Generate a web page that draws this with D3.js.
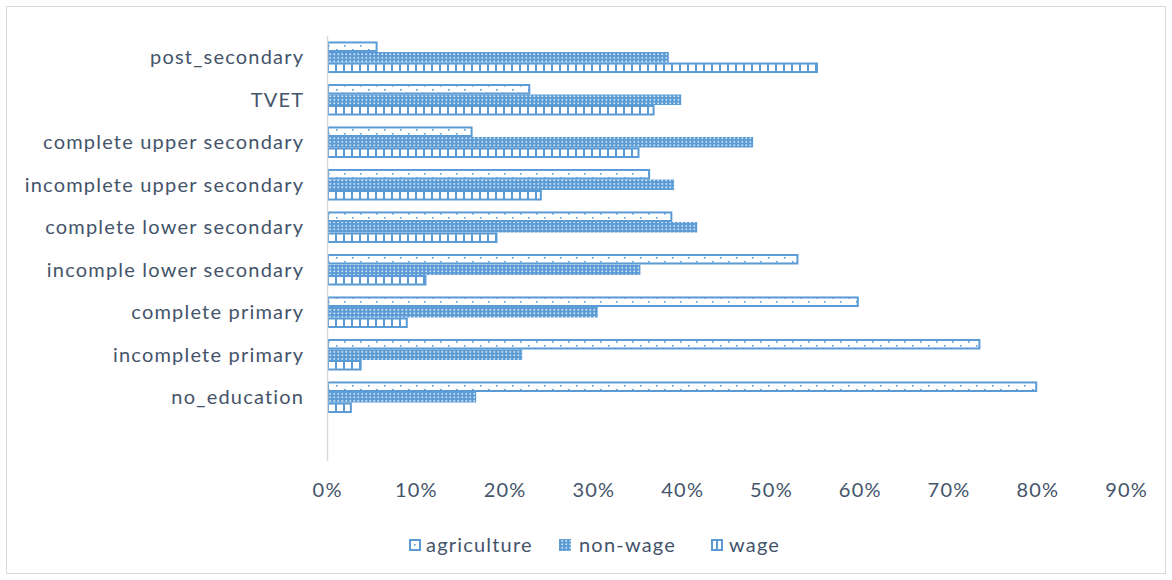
<!DOCTYPE html>
<html><head><meta charset="utf-8">
<script src="https://cdn.jsdelivr.net/npm/d3@7/dist/d3.min.js"></script>
<style>body{margin:0;background:#fff}svg{display:block}</style>
</head><body>
<svg id="c" width="1172" height="580"></svg>
<script>
const categories = ["post_secondary","TVET","complete upper secondary","incomplete upper secondary","complete lower secondary","incomple lower secondary","complete primary","incomplete primary","no_education"];
const seriesNames = ["agriculture","non-wage","wage"];
const agriculture = [5.7, 22.9, 16.4, 36.4, 38.9, 53.1, 59.9, 73.6, 80.0];
const nonWage     = [38.5, 39.9, 48.0, 39.1, 41.7, 35.3, 30.5, 22.0, 16.8];
const wage        = [55.3, 36.9, 35.2, 24.2, 19.2, 11.2, 9.1, 3.9, 2.8];
const xTicks = [0,10,20,30,40,50,60,70,80,90];

const blue = "#5B9BD5", text = "#44546A", font = "Lato, sans-serif";
const fs = 20, ls = 1.2;
const svg = d3.select("#c");
const defs = svg.append("defs");
let p = defs.append("pattern").attr("id","pAg").attr("patternUnits","userSpaceOnUse").attr("width",16).attr("height",8);
p.append("rect").attr("width",16).attr("height",8).attr("fill","#fff");
p.append("rect").attr("x",0).attr("y",1).attr("width",1.6).attr("height",1.6).attr("fill",blue);
p.append("rect").attr("x",8).attr("y",5).attr("width",1.6).attr("height",1.6).attr("fill",blue);
p = defs.append("pattern").attr("id","pNw").attr("patternUnits","userSpaceOnUse").attr("width",4).attr("height",3.5);
p.append("rect").attr("width",4).attr("height",3.5).attr("fill",blue);
p.append("rect").attr("x",1.5).attr("y",1.2).attr("width",1.6).attr("height",1.3).attr("fill","#fff");
p = defs.append("pattern").attr("id","pWg").attr("patternUnits","userSpaceOnUse").attr("width",8).attr("height",8).attr("x",327);
p.append("rect").attr("width",8).attr("height",8).attr("fill","#fff");
p.append("rect").attr("x",0).attr("y",0).attr("width",2).attr("height",8).attr("fill",blue);

svg.append("rect").attr("x",6.5).attr("y",6.5).attr("width",1159).attr("height",567).attr("fill","none").attr("stroke","#d9d9d9");

const x = d3.scaleLinear().domain([0,90]).range([327,1126]);
const y = d3.scaleBand().domain(categories.concat([""])).range([36,461]).paddingInner(0);
const ys = d3.scaleBand().domain(seriesNames).range([0,y.bandwidth()]).paddingOuter(0.52);

const data = categories.map((c,i)=>({cat:c, vals:[agriculture[i], nonWage[i], wage[i]]}));
const fills = {"agriculture":"url(#pAg)","non-wage":"url(#pNw)","wage":"url(#pWg)"};

const g = svg.append("g");
data.forEach(d=>{
  seriesNames.forEach((s,j)=>{
    const v = d.vals[j];
    const y0 = y(d.cat)+ys(s);
    const h = ys.bandwidth();
    if (s==="non-wage") {
      g.append("rect").attr("x",x(0)).attr("y",y0).attr("width",x(v)-x(0)).attr("height",h).attr("fill",fills[s]);
    } else {
      g.append("rect").attr("x",x(0)+1).attr("y",y0+1).attr("width",x(v)-x(0)-2).attr("height",h-2)
        .attr("fill",fills[s]).attr("stroke",blue).attr("stroke-width",2);
    }
  });
});

svg.append("line").attr("x1",327.5).attr("x2",327.5).attr("y1",36).attr("y2",461).attr("stroke","#d9d9d9").attr("stroke-width",1.5);

svg.append("g").selectAll("text").data(categories).join("text")
  .attr("x",303+ls).attr("y",d=>y(d)+y.bandwidth()/2).attr("dy","0.35em")
  .attr("text-anchor","end").attr("fill",text).attr("font-family",font).attr("font-size",fs)
  .attr("letter-spacing",ls).text(d=>d);

svg.append("g").selectAll("text").data(xTicks).join("text")
  .attr("x",d=>x(d)+ls/2).attr("y",490).attr("dy","0.35em").attr("text-anchor","middle")
  .attr("fill",text).attr("font-family",font).attr("font-size",fs).attr("letter-spacing",ls).text(d=>d+"%");

const leg = [{n:"agriculture",ix:409,tx:426},{n:"non-wage",ix:559,tx:579},{n:"wage",ix:711,tx:729}];
const lg = svg.append("g");
leg.forEach(l=>{
  if (l.n==="agriculture") {
    lg.append("rect").attr("x",l.ix+1).attr("y",540).attr("width",10).attr("height",10).attr("fill","#fff").attr("stroke",blue).attr("stroke-width",2);
    lg.append("rect").attr("x",l.ix+5).attr("y",544).attr("width",1.6).attr("height",1.6).attr("fill",blue);
  } else if (l.n==="non-wage") {
    lg.append("rect").attr("x",l.ix).attr("y",539).attr("width",12).attr("height",12).attr("fill","url(#pNw)");
  } else {
    lg.append("rect").attr("x",l.ix+1).attr("y",540).attr("width",10).attr("height",10).attr("fill","#fff").attr("stroke",blue).attr("stroke-width",2);
    lg.append("rect").attr("x",l.ix+5).attr("y",540).attr("width",2).attr("height",10).attr("fill",blue);
  }
  lg.append("text").attr("x",l.tx).attr("y",545).attr("dy","0.35em").attr("fill",text)
    .attr("font-family",font).attr("font-size",fs).attr("letter-spacing",ls).text(l.n);
});
</script>
</body></html>
